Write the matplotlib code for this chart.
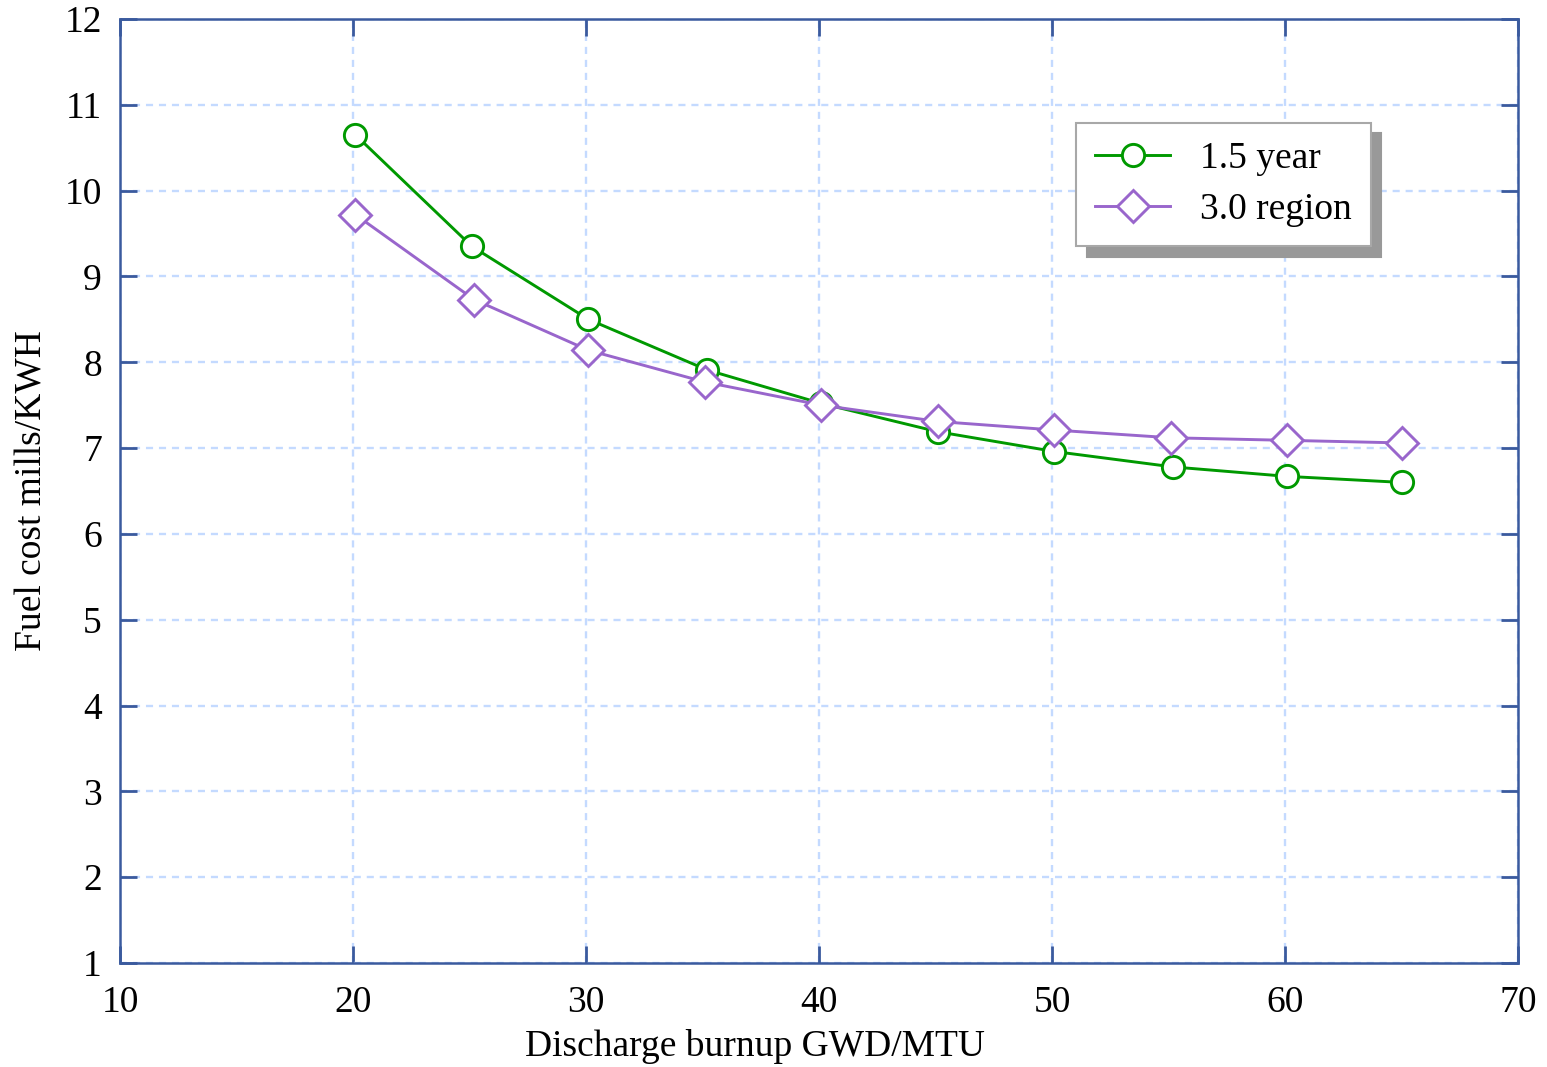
import matplotlib
matplotlib.use("Agg")
import matplotlib.pyplot as plt

burnup = [20.1, 25.1, 30.1, 35.2, 40.1, 45.1, 50.1, 55.2, 60.1, 65.0]
cost_15 = [10.65, 9.35, 8.50, 7.91, 7.52, 7.19, 6.96, 6.78, 6.67, 6.60]
burnup_30 = [20.1, 25.2, 30.1, 35.1, 40.1, 45.1, 50.1, 55.1, 60.1, 65.0]
cost_30 = [9.72, 8.73, 8.14, 7.77, 7.50, 7.31, 7.21, 7.12, 7.09, 7.06]
xticks = [10, 20, 30, 40, 50, 60, 70]
yticks = list(range(1, 13))

plt.rcParams['font.family'] = ['Liberation Serif', 'DejaVu Serif']
spine_c = '#3a5a9e'
FS = 27

fig = plt.figure(figsize=(15.47, 10.67), dpi=100)
ax = fig.add_axes([0.0776, 0.0975, 0.9037, 0.8847])

ax.plot(burnup, cost_15, color='#009900', lw=2.1, marker='o', ms=16,
        mfc='white', mec='#009900', mew=2.1, label='1.5 year', zorder=3)
ax.plot(burnup_30, cost_30, color='#9966cc', lw=2.1, marker='D', ms=16,
        mfc='white', mec='#9966cc', mew=2.1, label='3.0 region', zorder=3)

ax.set_xlim(10, 70)
ax.set_ylim(1, 12)
ax.set_xticks(xticks)
ax.set_yticks(yticks)
ax.grid(True, color='#c4daff', ls=(0, (3, 2.5)), lw=1.7)
ax.set_axisbelow(True)

for s in ax.spines.values():
    s.set_color(spine_c)
    s.set_linewidth(1.8)
ax.tick_params(direction='in', length=12, width=2, color=spine_c,
               top=True, right=True, labelsize=FS, labelcolor='black')
ax.tick_params(axis='y', pad=13)
ax.tick_params(axis='x', pad=16)

ax.set_xlabel('Discharge burnup GWD/MTU', fontsize=FS)
ax.xaxis.label.set_va('center')
ax.xaxis.set_label_coords(0.454, -0.088)
ax.set_ylabel('Fuel cost mills/KWH', fontsize=FS)
ax.yaxis.label.set_va('center')
ax.yaxis.set_label_coords(-0.0625, 0.5)

leg = ax.legend(loc='upper left', bbox_to_anchor=(0.684, 0.89), fontsize=FS,
                fancybox=False, frameon=True, edgecolor='#a8a8a8',
                shadow={'color': '#999999', 'alpha': 1, 'ox': 7.5, 'oy': -7.5},
                handlelength=2.0, borderpad=0.5, labelspacing=0.45,
                handletextpad=0.8, borderaxespad=0)
leg.get_frame().set_linewidth(1.5)

fig.savefig('out.png', dpi=100)
